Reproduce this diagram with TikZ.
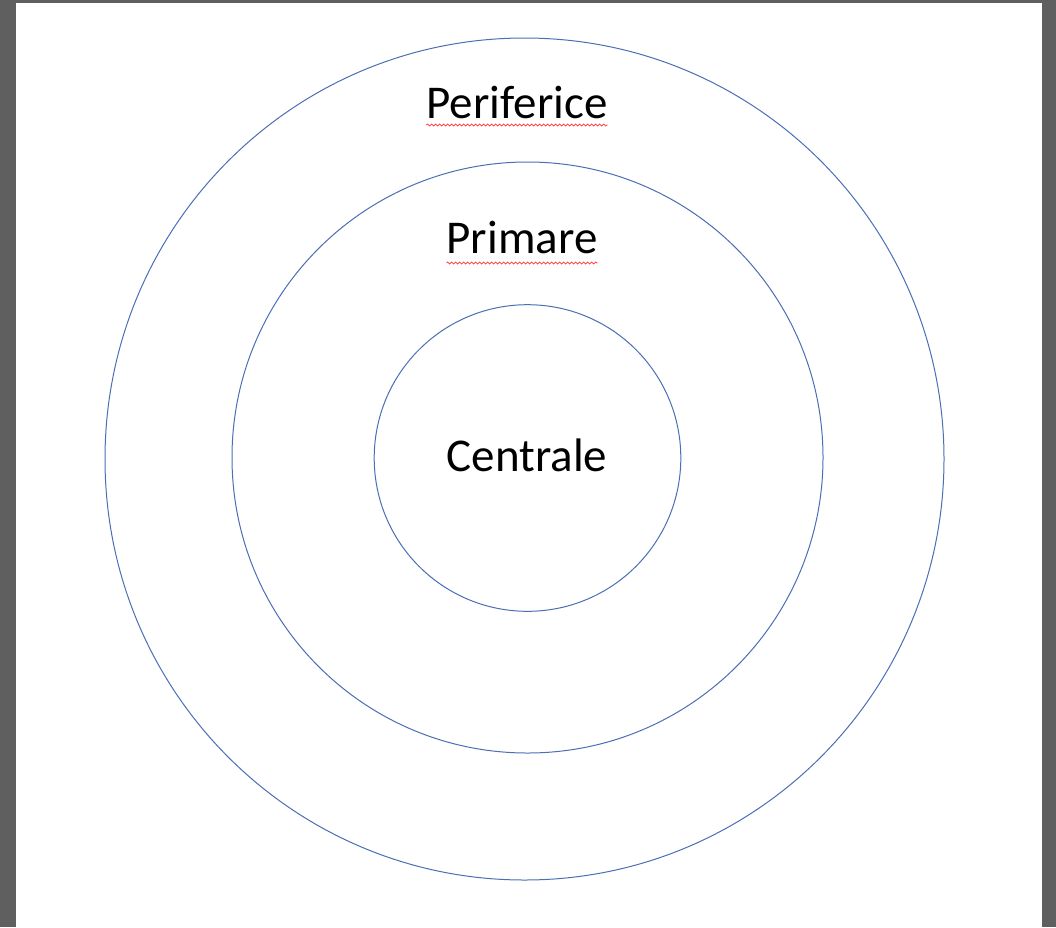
\documentclass[tikz,border=0pt]{standalone}
\usepackage{fontspec}
\setmainfont{Carlito}
\usetikzlibrary{decorations.pathmorphing}
\definecolor{ringblue}{HTML}{4A6FB5}
\definecolor{frame}{HTML}{5F5F5F}
\definecolor{spell}{HTML}{FF3333}
\tikzset{
  ring/.style={draw=ringblue, line width=1pt},
  lbl/.style={anchor=base, inner sep=0pt, font=\fontsize{47}{56}\selectfont, text=black},
  squiggle/.style={draw=spell, line width=0.7pt, decorate, decoration={snake, segment length=4pt, amplitude=1pt}}
}
\begin{document}
\begin{tikzpicture}[x=1pt,y=-1pt]
\fill[frame] (0,0) rectangle (1056,927);
\fill[white] (16,3) rectangle (1042,927);
\useasboundingbox (0,0) rectangle (1056,927);
\draw[ring] (524.5,459) ellipse [x radius=419.5, y radius=421];
\draw[ring] (527.5,457.5) circle [radius=295.5];
\draw[ring] (527.5,458) circle [radius=153.3];
\node[lbl] (per) at (517,118) {Periferice};
\node[lbl] (pri) at (522,253) {Primare};
\node[lbl] (cen) at (527,471) {Centrale};
\draw[squiggle] ([yshift=-7pt]per.base west) -- ([yshift=-7pt]per.base east);
\draw[squiggle] ([yshift=-10pt]pri.base west) -- ([yshift=-10pt]pri.base east);
\end{tikzpicture}
\end{document}
